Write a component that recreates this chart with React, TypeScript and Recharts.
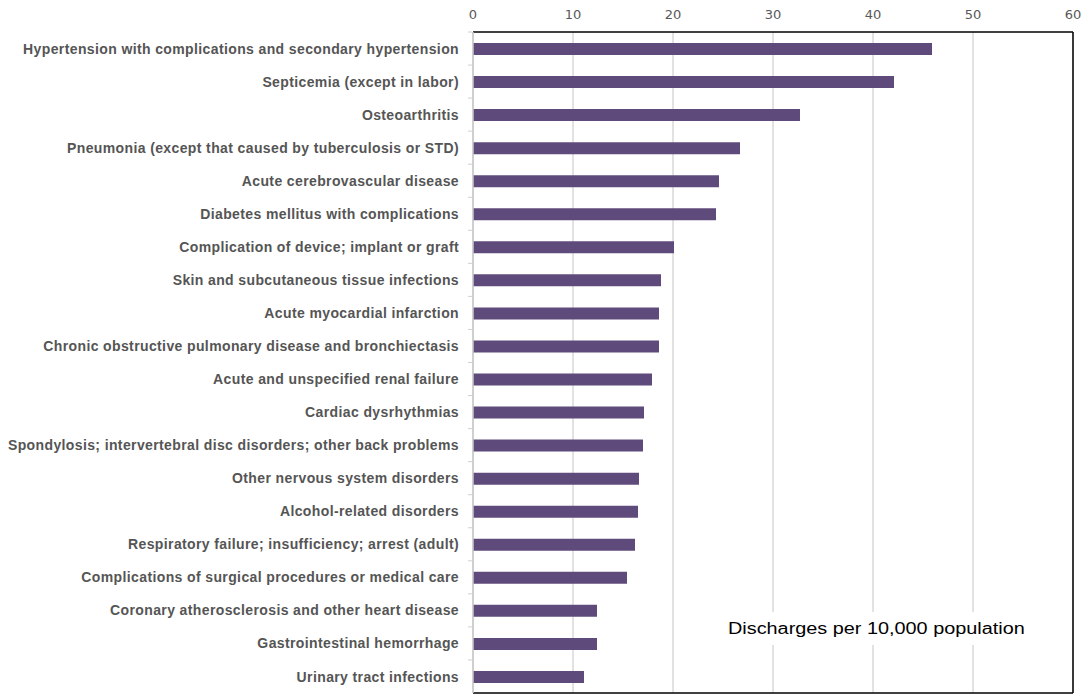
import React from 'react';
import { BarChart, Bar, XAxis, YAxis, CartesianGrid, ReferenceLine } from 'recharts';

const categories = [
    'Hypertension with complications and secondary hypertension',
    'Septicemia (except in labor)',
    'Osteoarthritis',
    'Pneumonia (except that caused by tuberculosis or STD)',
    'Acute cerebrovascular disease',
    'Diabetes mellitus with complications',
    'Complication of device; implant or graft',
    'Skin and subcutaneous tissue infections',
    'Acute myocardial infarction',
    'Chronic obstructive pulmonary disease and bronchiectasis',
    'Acute and unspecified renal failure',
    'Cardiac dysrhythmias',
    'Spondylosis; intervertebral disc disorders; other back problems',
    'Other nervous system disorders',
    'Alcohol-related disorders',
    'Respiratory failure; insufficiency; arrest (adult)',
    'Complications of surgical procedures or medical care',
    'Coronary atherosclerosis and other heart disease',
    'Gastrointestinal hemorrhage',
    'Urinary tract infections',
];

const dischargesPer10k = [
    45.9, 42.1, 32.7, 26.7, 24.6, 24.3, 20.1, 18.8, 18.6, 18.6,
    17.9, 17.1, 17.0, 16.6, 16.5, 16.2, 15.4, 12.4, 12.4, 11.1,
];

const xTicks = [0, 10, 20, 30, 40, 50, 60];

const axisTitle = 'Discharges per 10,000 population';

const data = categories.map((name, i) => ({ name, value: dischargesPer10k[i] }));

function CategoryTick(props: any) {
    const { x, y, payload } = props;
    const band = 661 / categories.length;
    return (
        <g>
            <line x1={x + 9} x2={x + 13} y1={y - band / 2} y2={y - band / 2} stroke="#d0d0d0" />
            <text
                x={x}
                y={y}
                dy="0.36em"
                textAnchor="end"
                fill="#555555"
                fontFamily="'Liberation Sans', Arial, sans-serif"
                fontSize={14}
                letterSpacing={0.38}
                fontWeight="bold"
            >
                {payload.value}
            </text>
        </g>
    );
}

export default function App() {
    return (
        <div style={{ position: 'absolute', left: 0, top: 0, width: 1085, height: 694, background: '#fff' }}>
            <BarChart
                width={1085}
                height={694}
                data={data}
                layout="vertical"
                margin={{ top: 0, right: 12, bottom: 0, left: 0 }}
            >
                <CartesianGrid horizontal={false} stroke="#d9d9d9" strokeWidth={1.5} />
                <XAxis
                    type="number"
                    orientation="top"
                    domain={[0, 60]}
                    ticks={xTicks}
                    height={32}
                    tickLine={false}
                    tickMargin={7}
                    axisLine={{ stroke: '#000', strokeWidth: 1.5 }}
                    tick={{ fill: '#595959', fontSize: 13, fontFamily: "'DejaVu Sans', Verdana, sans-serif" }}
                />
                <XAxis
                    xAxisId="bottom"
                    type="number"
                    orientation="bottom"
                    domain={[0, 60]}
                    height={1}
                    tick={false}
                    tickLine={false}
                    axisLine={{ stroke: '#000', strokeWidth: 1.5 }}
                />
                <YAxis
                    type="category"
                    dataKey="name"
                    width={473}
                    interval={0}
                    tickLine={false}
                    tickMargin={8}
                    axisLine={{ stroke: '#c8c8c8', strokeWidth: 1.5 }}
                    tick={<CategoryTick />}
                />
                <ReferenceLine x={60} stroke="#000" strokeWidth={1.5} />
                <Bar dataKey="value" fill="#5f4b7b" barSize={12} isAnimationActive={false} />
            </BarChart>
            <div
                style={{
                    position: 'absolute',
                    left: 720,
                    top: 612,
                    width: 318,
                    height: 33,
                    background: '#fff',
                    boxSizing: 'border-box',
                    paddingLeft: 8,
                    lineHeight: '33px',
                    fontFamily: "'Liberation Sans', Arial, sans-serif",
                    fontSize: 16,
                    color: '#000',
                    whiteSpace: 'nowrap',
                }}
            >
                <span style={{ display: 'inline-block', transform: 'scaleX(1.24)', transformOrigin: 'left center' }}>
                    {axisTitle}
                </span>
            </div>
        </div>
    );
}
